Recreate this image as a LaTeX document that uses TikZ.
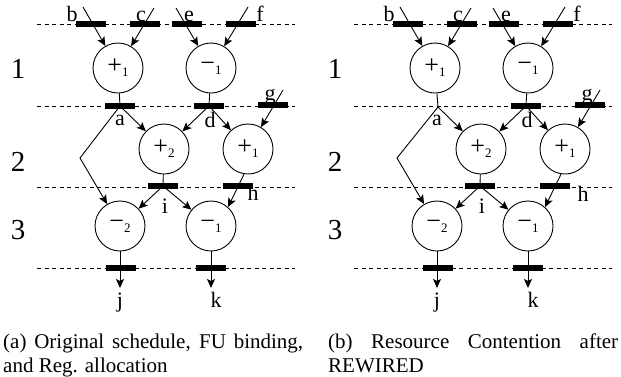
\documentclass[tikz,border=0pt]{standalone}
\usepackage{fontspec}
\setmainfont{Liberation Serif}
\usetikzlibrary{arrows.meta}
\newcommand\OpSym[2]{\fontsize{26}{26}\selectfont#1\raisebox{-3pt}{\fontsize{13}{13}\selectfont#2}}
\newcommand\PanelCommon{%
  \foreach \yy in {24,106,187,268} \draw[gridline] (37,\yy) -- (295,\yy);
  \node[rowlbl] (n1) at (18,69) {1};
  \node[rowlbl] (n2) at (18,162) {2};
  \node[rowlbl] (n3) at (18,230) {3};
  \node[op] (p1) at (118,68) {\OpSym{+}{1}};
  \node[op] (m1) at (211,68) {\OpSym{−}{1}};
  \node[op] (p2) at (164,149) {\OpSym{+}{2}};
  \node[op] (pb) at (248,149) {\OpSym{+}{1}};
  \node[op] (m2) at (120,226) {\OpSym{−}{2}};
  \node[op] (mb) at (211,226) {\OpSym{−}{1}};
  \node[reg] (rb) at (91,24) {};
  \node[reg] (rc) at (145,24) {};
  \node[reg] (re) at (187,24) {};
  \node[reg] (rf) at (241,24) {};
  \node[reg] (rd) at (209,106) {};
  \node[reg] (rg) at (273,105) {};
  \node[reg] (ri) at (163,186) {};
  \node[reg] (rh) at (238,186) {};
  \node[reg] (rj) at (121,268) {};
  \node[reg] (rk) at (211,268) {};
  \coordinate (sb) at (83,7);
  \coordinate (sc) at (154,8);
  \coordinate (se) at (176,8);
  \coordinate (sf) at (248,7);
  \coordinate (sg) at (283,90);
  \coordinate (ka) at (80,158);
  \coordinate (tj) at (120,288);
  \coordinate (tk) at (211,288);
  \node[lbl] (lb) at (72,21) {b};
  \node[lbl] (lc) at (141,21) {c};
  \node[lbl] (le) at (189,21) {e};
  \node[lbl] (lf) at (260,21) {f};
  \node[lbl] (lg) at (270,100) {g};
  \node[lbl] (la) at (120,125) {a};
  \node[lbl] (ld) at (210,127) {d};
  \node[lbl] (li) at (165,213) {i};
  \node[lbl] (lj) at (120,307) {j};
  \node[lbl] (lk) at (216,307) {k};
  \draw[arr] (sb) -- (p1);
  \draw[arr] (sc) -- (p1);
  \draw[arr] (se) -- (m1);
  \draw[arr] (sf) -- (m1);
  \draw[arr] (sg) -- (pb);
  \draw[ln] (m1) -- (rd);
  \draw[arr] (rd.center) -- (p2);
  \draw[arr] (rd.center) -- (pb);
  \draw[ln] (p2) -- (ri);
  \draw[arr] (ri.center) -- (m2);
  \draw[arr] (ri.center) -- (mb);
  \draw[arr] (pb.261) -- (mb.48);
  \draw[arr] (m2) -- (tj);
  \draw[arr] (mb) -- (tk);
}
\begin{document}
\begin{tikzpicture}[x=1pt,y=-1pt,
  op/.style={circle,draw,line width=0.9pt,minimum size=50pt,inner sep=0pt},
  reg/.style={rectangle,fill=black,minimum width=30pt,minimum height=6pt,inner sep=0pt},
  lbl/.style={font=\fontsize{22}{22}\selectfont,inner sep=0pt,anchor=base},
  rowlbl/.style={font=\fontsize{29}{29}\selectfont,inner sep=0pt},
  arr/.style={line width=0.9pt,-{Stealth[length=9pt,width=8pt,inset=2pt]}},
  ln/.style={line width=0.9pt},
  gridline/.style={dash pattern=on 4pt off 3.5pt,line width=0.6pt},
  captext/.style={font=\fontsize{21}{24}\selectfont,inner sep=0pt,anchor=base west,align=justify}
]
\useasboundingbox (0,0) rectangle (621,376);
\begin{scope}[name prefix=L-]
  \PanelCommon
  \node[reg] (ra) at (120,106) {};
  \node[lbl] (lh) at (253,200) {h};
  \draw[ln] (p1) -- (ra);
  \draw[arr] (ra.center) -- (p2);
  \draw[arr] (ra.center) -- (ka) -- (m2);
\end{scope}
\begin{scope}[xshift=317pt,name prefix=R-]
  \PanelCommon
  \coordinate (sa) at (121,107);
  \node[lbl] (lh) at (266,201) {h};
  \draw[ln] (p1) -- (sa);
  \draw[arr] (sa) -- (p2);
  \draw[arr] (sa) -- (ka) -- (m2);
\end{scope}
\node[captext,text width=300pt] (capa) at (3,348) {(a) Original schedule, FU binding,\linebreak and Reg. allocation};
\node[captext,text width=290pt] (capb) at (328,348) {(b) Resource Contention after\linebreak REWIRED};
\end{tikzpicture}
\end{document}
